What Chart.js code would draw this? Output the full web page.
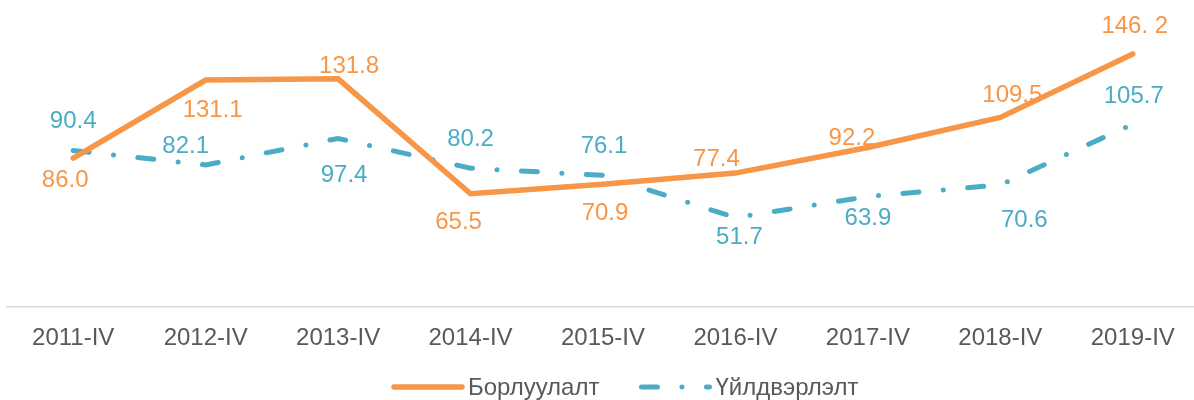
<!DOCTYPE html>
<html>
<head>
<meta charset="utf-8">
<script src="https://cdn.jsdelivr.net/npm/chart.js"></script>
<style>
html, body { margin: 0; padding: 0; background: #fff; overflow: hidden; }
#wrap { width: 1200px; height: 400px; }
</style>
</head>
<body>
<div id="wrap"><canvas id="lineChart" width="1200" height="400"></canvas></div>
<script>
var quarters = ['2011-IV', '2012-IV', '2013-IV', '2014-IV', '2015-IV', '2016-IV', '2017-IV', '2018-IV', '2019-IV'];
var sales = [86.0, 131.1, 131.8, 65.5, 70.9, 77.4, 92.2, 109.5, 146.2];
var production = [90.4, 82.1, 97.4, 80.2, 76.1, 51.7, 63.9, 70.6, 105.7];
var salesText = ['86.0', '131.1', '131.8', '65.5', '70.9', '77.4', '92.2', '109.5', '146. 2'];
var productionText = production.map(function (v) { return v.toFixed(1); });

// where each value label sits relative to its point (dx, dy)
var salesLabelPos = [[-8, 22], [7, 30], [11, -12], [-12, 29], [2, 29], [-19, -14], [-16, -9], [12, -22], [2, -28]];
var productionLabelPos = [[0, -29], [-20, -19], [6, 37], [0, -29], [1, -29], [4, 20], [0, 22], [24, 35], [1, -28]];

var FONT = '"Liberation Sans", Arial, sans-serif';

var valueLabels = {
    id: 'valueLabels',
    afterDatasetsDraw: function (chart) {
        var ctx = chart.ctx;
        ctx.save();
        ctx.font = '24px ' + FONT;
        ctx.textAlign = 'center';
        ctx.textBaseline = 'middle';
        chart.data.datasets.forEach(function (ds, i) {
            ctx.fillStyle = ds.borderColor;
            chart.getDatasetMeta(i).data.forEach(function (pt, j) {
                var off = ds.labelPos[j];
                ctx.fillText(ds.valueText[j], pt.x + off[0], pt.y + off[1]);
            });
        });
        ctx.restore();
    }
};

var bottomLegend = {
    id: 'bottomLegend',
    afterDraw: function (chart) {
        var ctx = chart.ctx;
        var x = 394, y = 387;
        ctx.save();
        ctx.font = '24px ' + FONT;
        ctx.textAlign = 'left';
        ctx.textBaseline = 'middle';
        chart.data.datasets.forEach(function (ds) {
            ctx.beginPath();
            ctx.strokeStyle = ds.borderColor;
            ctx.lineWidth = ds.borderWidth;
            ctx.lineCap = 'round';
            ctx.setLineDash(ds.borderDash || []);
            ctx.moveTo(x, y);
            ctx.lineTo(x + 68, y);
            ctx.stroke();
            ctx.setLineDash([]);
            ctx.fillStyle = '#595959';
            ctx.fillText(ds.label, x + 74, y + 1);
            x += 74 + ctx.measureText(ds.label).width + 42;
        });
        ctx.restore();
    }
};

var ctx = document.getElementById('lineChart').getContext('2d');
var myChart = new Chart(ctx, {
    type: 'line',
    data: {
        labels: quarters,
        datasets: [{
            label: 'Борлуулалт',
            data: sales,
            valueText: salesText,
            labelPos: salesLabelPos,
            borderColor: '#F79646',
            borderWidth: 5.5,
            borderCapStyle: 'round',
            pointRadius: 0,
            tension: 0
        }, {
            label: 'Үйлдвэрлэлт',
            data: production,
            valueText: productionText,
            labelPos: productionLabelPos,
            borderColor: '#4BACC6',
            borderWidth: 5,
            borderCapStyle: 'round',
            borderDash: [16, 24.5, 0, 24.5],
            pointRadius: 0,
            tension: 0
        }]
    },
    options: {
        responsive: false,
        animation: false,
        devicePixelRatio: 1,
        layout: { padding: { left: 7, right: 1, top: 4, bottom: 30 } },
        plugins: {
            legend: { display: false },
            tooltip: { enabled: false }
        },
        scales: {
            x: {
                offset: true,
                grid: { display: false, drawTicks: false },
                border: { display: true, color: '#D9D9D9', width: 1.5 },
                ticks: { color: '#595959', font: { size: 24, family: FONT }, padding: 17, maxRotation: 0, autoSkip: false }
            },
            y: {
                display: false,
                min: 0,
                max: 175
            }
        }
    },
    plugins: [valueLabels, bottomLegend]
});
</script>
</body>
</html>
